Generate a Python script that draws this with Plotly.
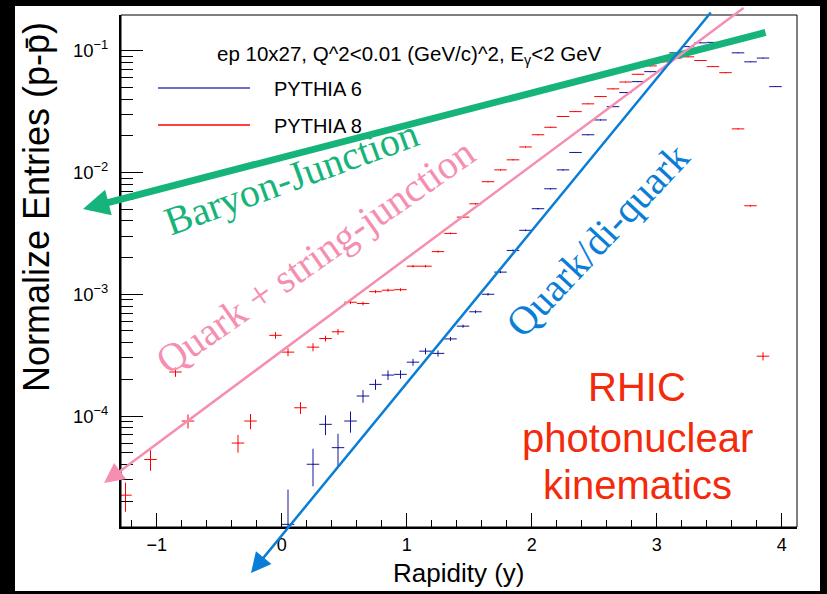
import plotly.graph_objects as go

# ---------------- data ----------------
x_p8 = [-1.25, -1.05, -0.85, -0.75, -0.35, -0.25, -0.05, 0.05, 0.15, 0.25, 0.35, 0.45, 0.55, 0.65,
        0.75, 0.85, 0.95, 1.05, 1.15, 1.25, 1.35, 1.45, 1.55, 1.65, 1.75, 1.85, 1.95, 2.05, 2.15,
        2.25, 2.35, 2.45, 2.55, 2.65, 2.75, 2.85, 2.95, 3.05, 3.15, 3.25, 3.35, 3.45, 3.55, 3.65,
        3.75, 3.85]
y_p8 = [2.24e-5, 4.4e-5, 2.3e-4, 9.1e-5, 6.0e-5, 9.1e-5, 4.6e-4, 3.35e-4, 1.17e-4, 3.68e-4, 4.33e-4,
        4.92e-4, 8.6e-4, 8.4e-4, 1.05e-3, 1.08e-3, 1.09e-3, 1.7e-3, 1.7e-3, 2.24e-3, 3.16e-3, 4.3e-3,
        5.53e-3, 8.4e-3, 1.05e-2, 1.27e-2, 1.62e-2, 2.04e-2, 2.35e-2, 2.88e-2, 3.16e-2, 3.66e-2,
        4.2e-2, 4.86e-2, 5.53e-2, 6.4e-2, 7.5e-2, 8.1e-2, 8.7e-2, 8.9e-2, 8.3e-2, 7.4e-2, 6.6e-2,
        2.28e-2, 5.33e-3, 3.1e-4]
e_p8 = [0.6e-5, 0.85e-5, 2.0e-5, 1.2e-5, 1.0e-5, 1.3e-5, 2.9e-5, 2.5e-5, 1.3e-5, 2.8e-5, 2.4e-5,
        2.7e-5, 3e-5, 3e-5, 3e-5, 3e-5, 3e-5, 4e-5, 4e-5, 4.5e-5, 5e-5, 6e-5, 7e-5, 9e-5, 1.0e-4,
        1.1e-4, 1.3e-4, 1.5e-4, 1.6e-4, 1.8e-4, 1.9e-4, 2.0e-4, 2.2e-4, 2.4e-4, 2.6e-4, 2.8e-4,
        3.0e-4, 3.1e-4, 3.2e-4, 3.2e-4, 3.1e-4, 2.9e-4, 2.8e-4, 1.6e-4, 8e-5, 2.4e-5]

x_p6 = [0.05, 0.25, 0.35, 0.45, 0.55, 0.65, 0.75, 0.85, 0.95, 1.05, 1.15, 1.25, 1.35, 1.45, 1.55,
        1.65, 1.75, 1.85, 1.95, 2.05, 2.15, 2.25, 2.35, 2.45, 2.55, 2.65, 2.75, 2.85, 2.95, 3.05,
        3.15, 3.25, 3.35, 3.45, 3.55, 3.65, 3.75, 3.85, 3.95]
y_p6 = [1.29e-5, 4.02e-5, 8.55e-5, 5.5e-5, 9.1e-5, 1.46e-4, 1.82e-4, 2.17e-4, 2.2e-4, 2.77e-4,
        3.41e-4, 3.27e-4, 4.3e-4, 5.47e-4, 7.18e-4, 1.0e-3, 1.52e-3, 2.29e-3, 3.35e-3, 5.04e-3,
        7.35e-3, 1.05e-2, 1.46e-2, 2.04e-2, 2.7e-2, 3.47e-2, 4.53e-2, 5.57e-2, 6.73e-2, 8.5e-2,
        9.6e-2, 0.108, 0.116, 0.117, 0.113, 9.6e-2, 8.1e-2, 8.7e-2, 5.07e-2]
e_p6 = [1.2e-5, 1.37e-5, 1.58e-5, 1.65e-5, 1.8e-5, 1.75e-5, 1.8e-5, 1.95e-5, 1.75e-5, 1.8e-5,
        2e-5, 1.9e-5, 1.7e-5, 1.6e-5, 2e-5, 2.5e-5, 3e-5, 4e-5, 5e-5, 7e-5, 9e-5, 1.1e-4, 1.3e-4,
        1.5e-4, 1.8e-4, 2e-4, 2.3e-4, 2.6e-4, 2.9e-4, 3.2e-4, 3.4e-4, 3.6e-4, 3.7e-4, 3.7e-4,
        3.6e-4, 3.4e-4, 3.1e-4, 3.2e-4, 2.5e-4]

bin_half_width = 0.05
x_ticks = [-1, 0, 1, 2, 3, 4]
y_ticks = [1e-4, 1e-3, 1e-2, 1e-1]
y_ticktext = ["10<sup>\u22124</sup>", "10<sup>\u22123</sup>", "10<sup>\u22122</sup>", "10<sup>\u22121</sup>"]

# ---------------- styling ----------------
W, H = 827, 594
L, R, T, B = 121, 30, 15, 67
PW, PH = W - L - R, H - T - B

def px(xp):
    return (xp - L) / PW

def py(yp):
    return (H - B - yp) / PH

C6 = "#14149a"
C8 = "#ff0000"
GREEN = "#16b47a"
PINK = "#f58fb1"
BLUE = "#0a7ed6"
RHIC = "#f32a0c"
SANS = "Liberation Sans, Arial, Helvetica, sans-serif"
SERIF = "Liberation Serif, Times New Roman, serif"

fig = go.Figure()
for xs, ys, es, c in [(x_p6, y_p6, e_p6, C6), (x_p8, y_p8, e_p8, C8)]:
    fig.add_trace(go.Scatter(
        x=xs, y=ys, mode="markers",
        marker=dict(size=1, color=c),
        error_x=dict(type="constant", value=bin_half_width, width=0, thickness=1, color=c),
        error_y=dict(type="data", array=es, width=0, thickness=1, color=c),
        cliponaxis=True, hoverinfo="skip"))

minor_y = [m * 10.0 ** e for e in range(-6, 0) for m in range(2, 10)]

fig.update_layout(
    width=W, height=H,
    margin=dict(l=L, r=R, t=T, b=B, pad=0),
    paper_bgcolor="black", plot_bgcolor="white",
    showlegend=False,
    font=dict(family=SANS, color="black"),
    xaxis=dict(range=[-1.286, 4.122], tickvals=x_ticks, ticks="inside", ticklen=14,
               tickwidth=1, tickcolor="black", showline=True, linewidth=2, linecolor="black",
               showgrid=False, zeroline=False, tickfont=dict(size=18, family=SANS),
               ticklabelstandoff=0, automargin=False,
               minor=dict(dtick=0.2, tick0=0, ticks="inside", ticklen=7, tickcolor="black",
                          showgrid=False)),
    yaxis=dict(type="log", range=[-4.911, -0.707], tickvals=y_ticks, ticktext=y_ticktext,
               ticks="inside", ticklen=22, tickwidth=1, tickcolor="black", showline=True,
               linewidth=2, linecolor="black", showgrid=False, zeroline=False,
               tickfont=dict(size=18.5, family=SANS), ticklabelstandoff=7, automargin=False,
               minor=dict(tickvals=minor_y, ticks="inside", ticklen=12, tickcolor="black",
                          showgrid=False)),
)

shapes = [
    # white canvas inside the black border
    dict(type="rect", xref="paper", yref="paper", x0=px(15), x1=px(820), y0=py(591), y1=py(6),
         fillcolor="white", line=dict(width=0), layer="below"),
    # frame
    dict(type="rect", xref="paper", yref="paper", x0=0, x1=1, y0=0, y1=1,
         line=dict(color="black", width=1)),
    # legend lines
    dict(type="line", xref="paper", yref="paper", x0=px(158), x1=px(250), y0=py(88), y1=py(88),
         line=dict(color="#3c3cb0", width=1.5)),
    dict(type="line", xref="paper", yref="paper", x0=px(158), x1=px(250), y0=py(125), y1=py(125),
         line=dict(color=C8, width=1.5)),
]
fig.update_layout(shapes=shapes)

ann = []
# axis titles
ann.append(dict(text="Rapidity (y)", xref="paper", yref="paper", x=px(458), y=py(573),
                showarrow=False, font=dict(size=26, family=SANS, color="black"),
                xanchor="center", yanchor="middle"))
ann.append(dict(text="Normalize Entries (p-p\u0304)", xref="paper", yref="paper", x=px(36), y=py(207),
                showarrow=False, textangle=-90, font=dict(size=36, family=SANS, color="black"),
                xanchor="center", yanchor="middle"))
# legend header and entries
ann.append(dict(text="ep 10x27, Q^2&lt;0.01 (GeV/c)^2, E<sub>\u03b3</sub>&lt;2 GeV", xref="paper", yref="paper",
                x=px(215), y=py(55), showarrow=False, xanchor="left", yanchor="middle",
                font=dict(size=20.5, family=SANS, color="black")))
ann.append(dict(text="PYTHIA 6", xref="paper", yref="paper", x=px(272), y=py(89), showarrow=False,
                xanchor="left", yanchor="middle", font=dict(size=20, family=SANS, color="black")))
ann.append(dict(text="PYTHIA 8", xref="paper", yref="paper", x=px(272), y=py(126), showarrow=False,
                xanchor="left", yanchor="middle", font=dict(size=20, family=SANS, color="black")))
# arrows
for tip, tail, col, w, sz in [((83, 209), (767, 32), GREEN, 7, 0.75),
                              ((104, 483), (745, 7), PINK, 2.5, 1.6),
                              ((251, 573), (712, 11), BLUE, 2.5, 1.6)]:
    ann.append(dict(text="", xref="paper", yref="paper", x=px(tip[0]), y=py(tip[1]),
                    ax=tail[0] - tip[0], ay=tail[1] - tip[1], axref="pixel", ayref="pixel",
                    showarrow=True, arrowhead=2, arrowwidth=w, arrowsize=sz, arrowcolor=col,
                    standoff=0, startstandoff=0))
# rotated labels
for t, cx, cy, ang, col in [("Baryon-Junction", 291, 177, -20, GREEN),
                            ("Quark + string-junction", 315, 256, -35, PINK),
                            ("Quark/di-quark", 597, 240, -47, BLUE)]:
    ann.append(dict(text=t, xref="paper", yref="paper", x=px(cx), y=py(cy), showarrow=False,
                    textangle=ang, xanchor="center", yanchor="middle",
                    font=dict(size=40, family=SERIF, color=col)))
# RHIC text
for t, yy in [("RHIC", 387), ("photonuclear", 438), ("kinematics", 485)]:
    ann.append(dict(text=t, xref="paper", yref="paper", x=px(637), y=py(yy), showarrow=False,
                    xanchor="center", yanchor="middle", font=dict(size=40, family=SANS, color=RHIC)))
fig.update_layout(annotations=ann)

fig.write_html("out.html")
